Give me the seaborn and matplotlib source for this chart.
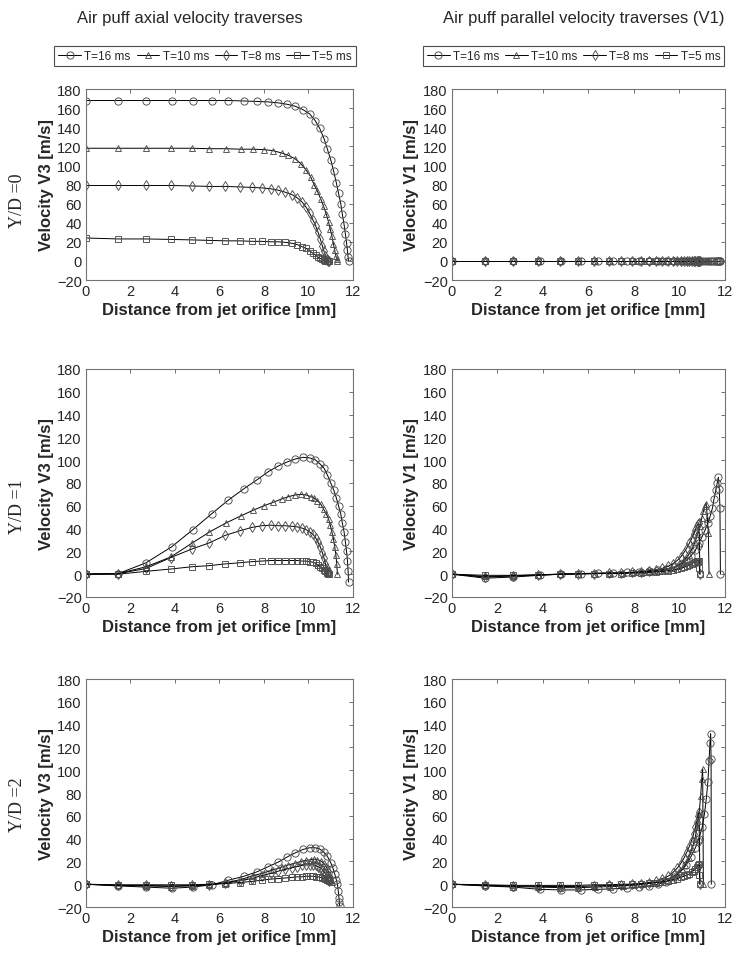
import matplotlib
matplotlib.use('Agg')
import matplotlib.pyplot as plt
import seaborn as sns

sns.set_style('white')
plt.rcParams['font.family'] = ['Liberation Sans', 'DejaVu Sans']

# x grids (distance from jet orifice, mm)
x_t16 = [0, 1.45, 2.7, 3.85, 4.8, 5.65, 6.4, 7.1, 7.7, 8.2, 8.65, 9.05, 9.4, 9.75, 10.05, 10.3,
         10.5, 10.7, 10.85, 11.0, 11.13, 11.25, 11.35, 11.45, 11.52, 11.6, 11.66, 11.71, 11.75, 11.78, 11.8]
x_t10 = [0, 1.45, 2.7, 3.8, 4.75, 5.55, 6.3, 6.95, 7.5, 8.0, 8.4, 8.8, 9.1, 9.4, 9.65, 9.9,
         10.1, 10.25, 10.4, 10.55, 10.68, 10.8, 10.9, 10.98, 11.05, 11.12, 11.18, 11.23, 11.27, 11.3]
x_t8 = [0, 1.45, 2.7, 3.8, 4.75, 5.55, 6.25, 6.9, 7.45, 7.9, 8.3, 8.65, 8.95, 9.25, 9.5, 9.7,
        9.9, 10.05, 10.2, 10.32, 10.43, 10.53, 10.62, 10.7, 10.76, 10.81, 10.85, 10.88, 10.9]
x_t5 = x_t8
x_t16_yd2 = [0, 1.45, 2.7, 3.85, 4.8, 5.65, 6.4, 7.1, 7.7, 8.2, 8.65, 9.05, 9.4, 9.75, 10.05, 10.3,
             10.5, 10.7, 10.85, 11.0, 11.1, 11.18, 11.25, 11.3, 11.34, 11.37, 11.39, 11.4]
x_t10_yd2 = [0, 1.45, 2.7, 3.8, 4.75, 5.55, 6.3, 6.95, 7.5, 8.0, 8.4, 8.8, 9.1, 9.4, 9.65, 9.9,
             10.1, 10.25, 10.4, 10.55, 10.68, 10.78, 10.86, 10.93, 10.98, 11.02, 11.05]

# axial velocity V3 [m/s]
v3_yd0_t16 = [168, 168, 168, 168, 168, 168, 168, 167.5, 167, 166.5, 165.5, 164, 162, 158.5, 154, 147,
              139, 128, 117, 106, 94, 82, 71, 60, 49, 38, 28, 19, 11, 4, 0]
v3_yd0_t10 = [118, 118, 118, 118, 118, 117.5, 117.5, 117, 117, 116.5, 115.5, 113, 110.5, 107, 102, 95,
              88, 80, 73, 65, 57, 49, 41, 33, 26, 18, 11, 5, 2, 0]
v3_yd0_t8 = [79, 79, 79, 79, 78.5, 78, 78, 77.5, 77, 76.5, 75.5, 74, 72, 69.5, 66, 62,
             56, 50, 43, 37, 30, 23, 16, 10, 5, 2.5, 1, 0.3, 0]
v3_yd0_t5 = [24, 23, 23, 22.5, 22, 21.5, 21, 21, 20.5, 20.5, 20, 20, 19.5, 18.5, 17, 15,
             13, 10.5, 8, 6, 4, 2.6, 1.6, 0.8, 0.4, 0.2, 0.1, 0, 0]

v3_yd1_t16 = [0, 0.5, 10, 24, 39, 53, 65, 75, 83, 90, 95, 98.5, 101, 102.5, 102, 100.5,
              97, 93, 87, 80, 74, 67, 60, 53, 45, 37, 28, 20, 12, 3, -7]
v3_yd1_t10 = [0, 0.5, 6.5, 15, 27, 37, 45, 51, 56, 60, 63, 66, 68, 69.5, 70, 69.5,
              68, 67, 64.5, 61.5, 57, 53, 48.5, 43, 37, 31, 24, 17, 9, 0]
v3_yd1_t8 = [0, 0.5, 5, 14.5, 22, 27.5, 34, 38, 41, 42.5, 43, 42.5, 42.5, 42, 41.5, 40.5,
             39, 37, 35, 32, 28, 24, 19, 14, 9, 5, 3, 2, 1.5]
v3_yd1_t5 = [0, 0, 2.5, 4.5, 6.5, 7.5, 9, 10, 11, 11.5, 12, 12, 12, 12, 12, 11.5,
             11.5, 11, 10.5, 9.5, 8, 6.5, 5, 3.5, 2.5, 1.5, 1, 0.5, 0.5]

v3_yd2_t16 = [0, -1.5, -2.5, -3.5, -2.5, -0.5, 3.5, 7, 11, 15.5, 19.5, 24, 27.5, 30.5, 32, 32,
              31, 28, 24.5, 19, 14, 9, 4, 0, -6, -12, -16, -19]
v3_yd2_t10 = [0, -1, -1.5, -2, -1.5, -0.5, 1.5, 4, 7.5, 10, 12.5, 15, 17, 18.5, 20, 21,
              21.5, 22, 21.5, 20.5, 18.5, 16, 13, 9, 6, 3.5, 2]
v3_yd2_t8 = [0, -1, -1, -1.5, -1, -0.5, 1, 3, 5, 7.5, 9.5, 11.5, 13, 14.5, 15.5, 16.5,
             17, 17, 17, 16.5, 15.5, 14.5, 13, 11, 9, 7, 5, 3.5, 2.5]
v3_yd2_t5 = [0, -0.5, -0.5, -0.5, -0.5, 0, 0.5, 1.5, 2.5, 3.5, 4.5, 5, 5.5, 6, 6.5, 6.5,
             7, 7, 7, 6.5, 6.5, 6, 5.5, 5.5, 5, 4.5, 4, 3.5, 3]

# parallel velocity V1 [m/s]
v1_yd0_t16 = [0, 0, 0, 0, 0, 0, 0, 0, 0, 0, 0, 0, 0, 0, 0, 0,
              0, 0, 0, 0, 0, 0, 0, 0, 0, 0, 0, 0, 0, 0, 0]
v1_yd0_t10 = [0, 0, 0, 0, 0, 0, 0, 0, 0, 0, 0, 0, 0, 0, 0, 0,
              0, 0, 0, 0, 0, 0, 0, 0, 0, 0, 0, 0, 0, 0]
v1_yd0_t8 = [0, 0, 0, 0, 0, 0, 0, 0, 0, 0, 0, 0, 0, 0, 0, 0,
             0, 0, 0, 0, 0, 0, 0, 0, 0, 0, 0, 0, 0]
v1_yd0_t5 = [0, 0, 0, 0, 0, 0, 0, 0, 0, 0, 0, 0, 0, 0, 0, 0,
             0, 0, 0, 0, 0, 0, 0, 0, 0, 0, 0, 0, 0]

v1_yd1_t16 = [0, -3.5, -2.5, -1, 0, 0.5, 1, 1, 1.5, 2, 2.5, 3.5, 4.5, 6, 8.5, 12,
              16, 21, 27, 33, 39, 45, 51, 58, 66, 74, 80, 85, 75, 58, 0]
v1_yd1_t10 = [0, -2, -1.5, -0.5, 0, 0.5, 0.5, 1, 1, 1.5, 2, 2.5, 3, 4, 5, 7,
              10, 13, 17, 22, 28, 35, 42, 49, 55, 60, 62, 48, 36, 0]
v1_yd1_t8 = [0, -2.5, -1.5, -1, 0, 0.5, 0.5, 1, 1, 1.5, 2, 3, 4, 5, 7, 9,
             12, 15, 19, 23, 27, 31, 35, 39, 42, 44, 45, 25, 0]
v1_yd1_t5 = [0, -1, -1, -0.5, 0, 0, 0.5, 0.5, 0.5, 1, 1, 1.5, 2, 2.5, 3, 3.5,
             4.5, 5, 6, 7, 8, 9, 10, 11, 11.5, 12, 12, 5, 0]

v1_yd2_t16 = [0, -1.5, -2.5, -4.5, -5, -5, -4.5, -4, -3.5, -2.5, -1.5, 0, 2, 6, 11, 17,
              24, 32, 40, 50, 62, 75, 90, 108, 124, 132, 110, 0]
v1_yd2_t10 = [0, -1, -2, -2.5, -3, -3, -2.5, -2, -1.5, -1, 0, 1, 2, 4, 6, 9,
              13, 17, 23, 31, 40, 50, 62, 77, 92, 101, 0]
v1_yd2_t8 = [0, -1, -1.5, -2, -2, -2, -1.5, -1, -1, 0, 0.5, 1.5, 3, 5, 7, 10,
             14, 18, 23, 28, 33, 38, 44, 50, 55, 60, 63, 38, 0]
v1_yd2_t5 = [0, -0.5, -1, -1, -1, -1, -0.5, -0.5, 0, 0, 0.5, 1, 1.5, 2, 3, 4,
             5, 6, 7, 8, 9, 10.5, 12, 13.5, 15, 16.5, 18, 8, 0]

labels = ['T=16 ms', 'T=10 ms', 'T=8 ms', 'T=5 ms']
markers = ['o', '^', 'd', 's']
row_labels = ['Y/D =0', 'Y/D =1', 'Y/D =2']
titles = ['Air puff axial velocity traverses', 'Air puff parallel velocity traverses (V1)']
ylabels = ['Velocity V3 [m/s]', 'Velocity V1 [m/s]']

# panels: (row, col) -> list of (x, y) for T=16, 10, 8, 5
panels = {
    (0, 0): [(x_t16, v3_yd0_t16), (x_t10, v3_yd0_t10), (x_t8, v3_yd0_t8), (x_t5, v3_yd0_t5)],
    (0, 1): [(x_t16, v1_yd0_t16), (x_t10, v1_yd0_t10), (x_t8, v1_yd0_t8), (x_t5, v1_yd0_t5)],
    (1, 0): [(x_t16, v3_yd1_t16), (x_t10, v3_yd1_t10), (x_t8, v3_yd1_t8), (x_t5, v3_yd1_t5)],
    (1, 1): [(x_t16, v1_yd1_t16), (x_t10, v1_yd1_t10), (x_t8, v1_yd1_t8), (x_t5, v1_yd1_t5)],
    (2, 0): [(x_t16_yd2, v3_yd2_t16), (x_t10_yd2, v3_yd2_t10), (x_t8, v3_yd2_t8), (x_t5, v3_yd2_t5)],
    (2, 1): [(x_t16_yd2, v1_yd2_t16), (x_t10_yd2, v1_yd2_t10), (x_t8, v1_yd2_t8), (x_t5, v1_yd2_t5)],
}

fig = plt.figure(figsize=(7.45, 9.62), dpi=100)

# axes boxes in figure fractions
col_pos = [(0.1154, 0.3584), (0.6067, 0.3664)]
row_pos = [(0.7079, 0.1985), (0.3784, 0.2370), (0.0561, 0.2370)]
msizes = {'o': 5.2, '^': 5.0, 'd': 5.2, 's': 4.4}

for (r, c), series in panels.items():
    left, width = col_pos[c]
    bottom, height = row_pos[r]
    ax = fig.add_axes([left, bottom, width, height])
    for (xs, ys), mk in zip(series, markers):
        sns.lineplot(x=xs, y=ys, ax=ax, color='black', linewidth=0.7, marker=mk,
                     markersize=msizes[mk], markerfacecolor='none',
                     markeredgecolor='0.3', markeredgewidth=0.65, errorbar=None)
    ax.set_xlim(0, 12)
    ax.set_ylim(-20, 180)
    ax.set_xticks(range(0, 13, 2))
    ax.set_yticks(range(-20, 181, 20))
    ax.tick_params(direction='in', top=True, right=True, length=3, width=0.6,
                   color='0.35', labelsize=10.5, labelcolor='0.15', pad=3)
    for sp in ax.spines.values():
        sp.set_color('0.45')
        sp.set_linewidth(0.8)
    ax.set_xlabel('Distance from jet orifice [mm]', fontsize=12, fontweight='bold', labelpad=3)
    ax.set_ylabel(ylabels[c], fontsize=12, fontweight='bold')
    ax.yaxis.set_label_coords(-0.12, 0.5)
    if r == 0:
        leg = ax.legend(ax.get_lines()[:4], labels, ncol=4, loc='lower center',
                        bbox_to_anchor=(0.446, 1.12), borderaxespad=0, fontsize=8.5,
                        handlelength=1.9, handletextpad=0.3, columnspacing=0.5,
                        borderpad=0.35, fancybox=False, edgecolor='0.3', framealpha=1)
        leg.get_frame().set_linewidth(0.8)

fig.text(190 / 745, 1 - 19 / 962, titles[0], fontsize=12, ha='center', va='center')
fig.text(584 / 745, 1 - 19 / 962, titles[1], fontsize=12, ha='center', va='center')

for lab, yc in zip(row_labels, [201, 507, 805]):
    fig.text(17 / 745, 1 - yc / 962, lab, rotation=90, fontsize=13,
             family=['Liberation Serif', 'DejaVu Serif'], ha='center', va='center')

fig.savefig('out.png', dpi=100)
